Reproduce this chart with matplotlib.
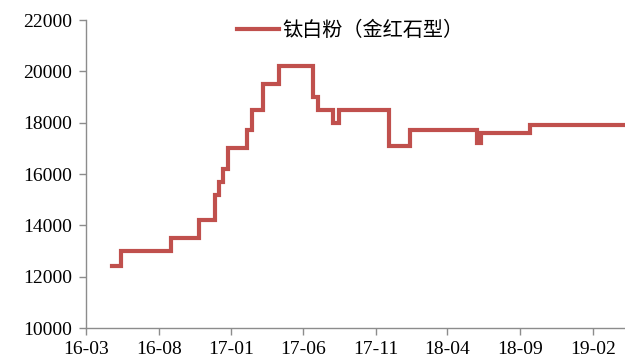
import matplotlib
matplotlib.use("Agg")
import matplotlib.pyplot as plt
import pandas as pd

# step dates (change points) and values
dates = ["2016-04-24", "2016-05-14", "2016-08-28", "2016-10-24", "2016-11-28",
         "2016-12-06", "2016-12-14", "2016-12-24", "2017-02-04", "2017-02-13",
         "2017-03-09", "2017-04-11", "2017-06-23", "2017-07-02", "2017-08-04",
         "2017-08-16", "2017-11-30", "2018-01-13", "2018-06-02", "2018-06-10",
         "2018-09-21", "2019-04-10"]
values = [12400, 13000, 13500, 14200, 15200,
          15700, 16200, 17000, 17700, 18500,
          19500, 20200, 19000, 18500, 18000,
          18500, 17100, 17700, 17200, 17600,
          17900, 17900]
series_name = "钛白粉（金红石型）"
tick_dates = ["2016-03-01", "2016-08-01", "2017-01-01", "2017-06-01", "2017-11-01",
              "2018-04-01", "2018-09-01", "2019-02-01"]
tick_labels = ["16-03", "16-08", "17-01", "17-06", "17-11", "18-04", "18-09", "19-02"]
y_ticks = [10000, 12000, 14000, 16000, 18000, 20000, 22000]

x = pd.to_datetime(dates)
fig = plt.figure(figsize=(6.25, 3.63), dpi=100)
ax = fig.add_axes([0.1376, 0.0964, 0.8624, 0.8485])
ax.step(x, values, where="post", color="#C0504D", lw=3, label=series_name,
        solid_joinstyle="miter")

ax.set_xlim(pd.Timestamp("2016-03-01"), pd.Timestamp("2019-04-10"))
ax.set_ylim(10000, 22000)
ax.set_yticks(y_ticks)
ax.set_yticklabels([str(v) for v in y_ticks])
ax.set_xticks(pd.to_datetime(tick_dates))
ax.set_xticklabels(tick_labels)

for s in ["top", "right"]:
    ax.spines[s].set_visible(False)
for s in ["left", "bottom"]:
    ax.spines[s].set_color("#8c8c8c")
    ax.spines[s].set_linewidth(1.0)
ax.tick_params(axis="both", colors="#8c8c8c", length=5, width=1, direction="out",
               labelcolor="black", labelsize=14)
ax.tick_params(axis="x", pad=4)
ax.tick_params(axis="y", pad=5)
for lab in ax.get_xticklabels() + ax.get_yticklabels():
    lab.set_fontfamily(["Liberation Serif"])

leg = ax.legend(loc="center", bbox_to_anchor=(0.49, 0.967), frameon=False,
                prop={"family": ["Noto Sans CJK SC"], "size": 14.5},
                handlelength=2.1, handletextpad=0.15)

fig.savefig("out.png", dpi=100)
